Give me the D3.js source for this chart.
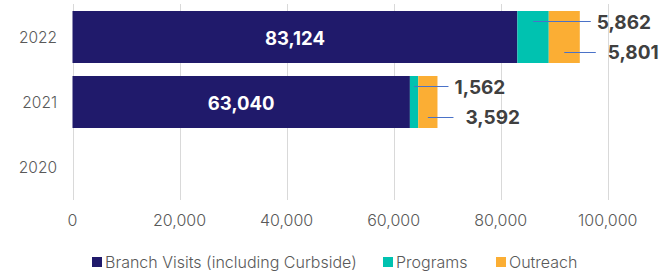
<!DOCTYPE html>
<html>
<head>
<meta charset="utf-8">
<script src="https://cdn.jsdelivr.net/npm/d3@7"></script>
<style>
  body { margin: 0; background: #fff; }
  text { font-family: Inter, sans-serif; }
</style>
</head>
<body>
<div id="root"></div>
<script>
const years = ['2022', '2021', '2020']
const seriesNames = ['Branch Visits (including Curbside)', 'Programs', 'Outreach']
const branchVisits = [83124, 63040, 0]
const programs = [5862, 1562, 0]
const outreach = [5801, 3592, 0]
const xTicks = [0, 20000, 40000, 60000, 80000, 100000]
const colors = ['#201a6b', '#00c2b0', '#fbae34']

const svg = d3.select('#root').append('svg')
  .attr('width', 659)
  .attr('height', 275)

const x = d3.scaleLinear().domain([0, 100000]).range([72.5, 607.7])
const y = d3.scaleBand().domain(years).range([4.5, 199.5])
  .paddingInner(0.2).paddingOuter(0.1)

// grid
svg.append('g')
  .selectAll('line')
  .data(xTicks)
  .join('line')
  .attr('x1', d => Math.round(x(d)) + 0.5)
  .attr('x2', d => Math.round(x(d)) + 0.5)
  .attr('y1', 4)
  .attr('y2', 200)
  .attr('stroke', '#d9d9d9')
  .attr('stroke-width', 1)

svg.append('g')
  .selectAll('text')
  .data(xTicks)
  .join('text')
  .attr('x', d => x(d))
  .attr('y', 220)
  .attr('text-anchor', 'middle')
  .attr('dominant-baseline', 'central')
  .attr('font-size', 16)
  .attr('font-weight', 300)
  .attr('fill', '#595959')
  .text(d3.format(','))

svg.append('g')
  .selectAll('text')
  .data(years)
  .join('text')
  .attr('x', 57)
  .attr('y', d => y(d) + y.bandwidth() / 2)
  .attr('text-anchor', 'end')
  .attr('dominant-baseline', 'central')
  .attr('font-size', 15.5)
  .attr('font-weight', 300)
  .attr('fill', '#595959')
  .text(d => d)

// stacked bars
const rows = years.map((yr, i) => ({
  year: yr,
  values: [branchVisits[i], programs[i], outreach[i]]
}))

rows.forEach(row => {
  let acc = 0
  row.segs = row.values.map((v, k) => {
    const s = { k, v, x0: acc, x1: acc + v, year: row.year }
    acc += v
    return s
  })
  row.total = acc
})

const bars = svg.append('g')
rows.filter(r => r.total > 0).forEach(row => {
  bars.selectAll(null)
    .data(row.segs)
    .join('rect')
    .attr('x', d => x(d.x0))
    .attr('y', y(row.year))
    .attr('width', d => x(d.x1) - x(d.x0))
    .attr('height', y.bandwidth())
    .attr('fill', d => colors[d.k])
})

// inside labels
svg.append('g')
  .selectAll('text')
  .data(rows.filter(r => r.total > 0))
  .join('text')
  .attr('x', d => (x(0) + x(d.values[0])) / 2)
  .attr('y', d => y(d.year) + y.bandwidth() / 2 + 1)
  .attr('text-anchor', 'middle')
  .attr('dominant-baseline', 'central')
  .attr('font-size', 18.5)
  .attr('font-weight', 700)
  .attr('fill', '#fff')
  .text(d => d3.format(',')(d.values[0]))

// callout labels
const callouts = []
rows.filter(r => r.total > 0).forEach(row => {
  const end = x(row.total)
  const top = y(row.year)
  const teal = row.segs[1], orange = row.segs[2]
  callouts.push({ seg: teal, tx: end + 17, ly: top + 10, gap: 6 })
  callouts.push({ seg: orange, tx: end + 28, ly: top + 40.5, gap: 12 })
})

const co = svg.append('g')
co.selectAll('line')
  .data(callouts)
  .join('line')
  .attr('x1', d => (x(d.seg.x0) + x(d.seg.x1)) / 2)
  .attr('x2', d => d.tx - d.gap)
  .attr('y1', d => Math.round(d.ly) + 0.5)
  .attr('y2', d => Math.round(d.ly) + 0.5)
  .attr('stroke', '#4a72c8')
  .attr('stroke-width', 1)

co.selectAll('text')
  .data(callouts)
  .join('text')
  .attr('x', d => d.tx)
  .attr('y', d => d.ly + 1)
  .attr('dominant-baseline', 'central')
  .attr('font-size', 19)
  .attr('font-weight', 700)
  .attr('fill', '#404040')
  .text(d => d3.format(',')(d.seg.v))

// legend
const legend = svg.append('g').attr('transform', 'translate(0, 262)')
const lx = [92, 383, 496]
seriesNames.forEach((name, i) => {
  const g = legend.append('g').attr('transform', `translate(${lx[i]}, 0)`)
  g.append('rect')
    .attr('x', 0).attr('y', -5)
    .attr('width', 10).attr('height', 10)
    .attr('fill', colors[i])
  g.append('text')
    .attr('x', 13)
    .attr('y', 0)
    .attr('dominant-baseline', 'central')
    .attr('font-size', 16)
    .attr('font-weight', 300)
    .attr('fill', '#595959')
    .text(name)
})
</script>
</body>
</html>
